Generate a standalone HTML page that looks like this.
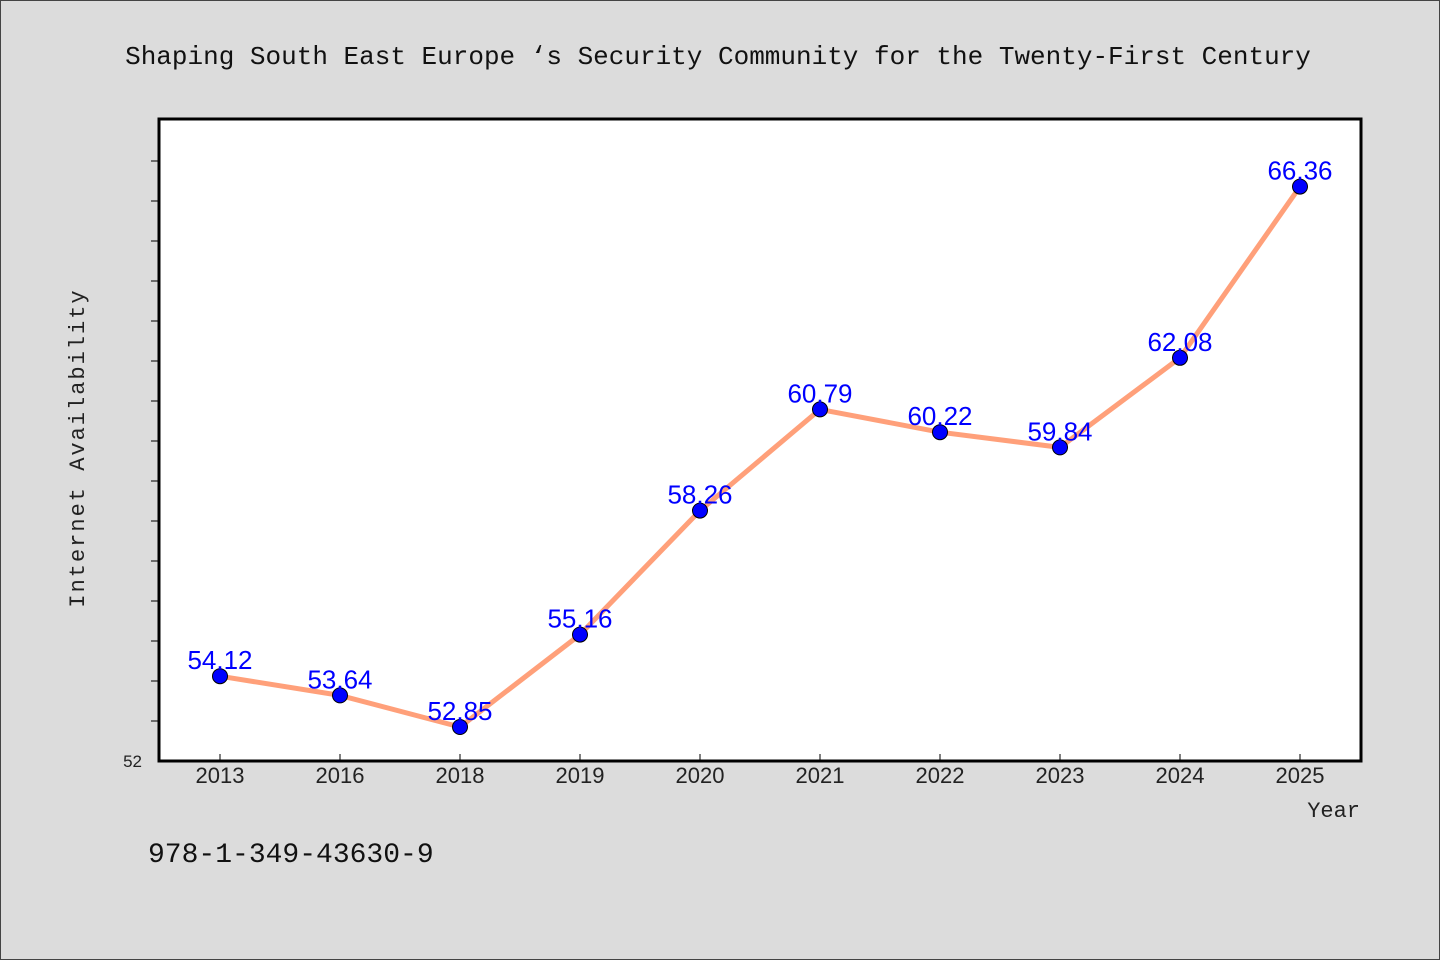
<!DOCTYPE html>
<html><head><meta charset="utf-8"><style>
body{margin:0;background:#dcdcdc;}
svg{display:block;font-family:"Liberation Sans","WenQuanYi Zen Hei",sans-serif;}
</style></head><body>
<svg width="1440" height="960">
<rect x="0.5" y="0.5" width="1439" height="959" fill="#dcdcdc" stroke="#444"/>
<text x="718" y="64" text-anchor="middle" font-size="26" font-family="'WenQuanYi Zen Hei','Liberation Mono',monospace" fill="#111">Shaping South East Europe ‘s Security Community for the Twenty-First Century</text>
<rect x="159" y="119" width="1202" height="642" fill="#fff" stroke="#000" stroke-width="3"/>
<g id="yticks"></g><g id="xticks"></g>
<text x="142" y="767" text-anchor="end" font-size="17" fill="#222">52</text>
<text transform="translate(84,448) rotate(-90)" text-anchor="middle" font-size="22" font-family="'WenQuanYi Zen Hei','Liberation Mono',monospace" letter-spacing="2" fill="#222">Internet Availability</text>
<text x="1360" y="817" text-anchor="end" font-size="22" font-family="'WenQuanYi Zen Hei','Liberation Mono',monospace" fill="#222">Year</text>
<text x="148" y="862" font-size="28" font-family="'WenQuanYi Zen Hei','Liberation Mono',monospace" fill="#111">978-1-349-43630-9</text>
<polyline id="line" fill="none" stroke="#ffa07a" stroke-width="5" stroke-linejoin="round"/>
<g id="marks"></g>
</svg>
<script>
const categories=["2013","2016","2018","2019","2020","2021","2022","2023","2024","2025"];
const values=[54.12,53.64,52.85,55.16,58.26,60.79,60.22,59.84,62.08,66.36];
const labels=["54.12","53.64","52.85","55.16","58.26","60.79","60.22","59.84","62.08","66.36"];
const yMin=52, yMax=68.05;
const NS="http://www.w3.org/2000/svg";
function xs(i){return 220+i*120;}
function ys(v){return 761-(v-yMin)/(yMax-yMin)*642;}
const yt=document.getElementById('yticks');
for(let v=53;v<=67;v++){
 const l=document.createElementNS(NS,'line');
 l.setAttribute('x1',151);l.setAttribute('x2',159);l.setAttribute('y1',ys(v));l.setAttribute('y2',ys(v));l.setAttribute('stroke','#000');
 
 
 yt.appendChild(l);
}
const xt=document.getElementById('xticks');
categories.forEach((c,i)=>{
 const l=document.createElementNS(NS,'line');
 l.setAttribute('x1',xs(i));l.setAttribute('x2',xs(i));l.setAttribute('y1',754);l.setAttribute('y2',761);l.setAttribute('stroke','#000');
 
 
 xt.appendChild(l);
 const t=document.createElementNS(NS,'text');
 t.setAttribute('x',xs(i));t.setAttribute('y',783);t.setAttribute('text-anchor','middle');t.setAttribute('font-size','22');t.setAttribute('fill','#222');
 t.textContent=c;
 
 
 xt.appendChild(t);
});
document.getElementById('line').setAttribute('points',values.map((v,i)=>xs(i)+','+ys(v)).join(' '));
const m=document.getElementById('marks');
values.forEach((v,i)=>{
 const c=document.createElementNS(NS,'circle');
 c.setAttribute('cx',xs(i));c.setAttribute('cy',ys(v));c.setAttribute('r',7.5);c.setAttribute('fill','#0000ff');c.setAttribute('stroke','#000');c.setAttribute('stroke-width','1');
 
 
 m.appendChild(c);
 const t=document.createElementNS(NS,'text');
 t.setAttribute('x',xs(i));t.setAttribute('y',ys(v)-7);t.setAttribute('text-anchor','middle');t.setAttribute('font-size','26');t.setAttribute('fill','#0000ff');
 t.textContent=labels[i];
 
 
 m.appendChild(t);
});
</script>
</body></html>
